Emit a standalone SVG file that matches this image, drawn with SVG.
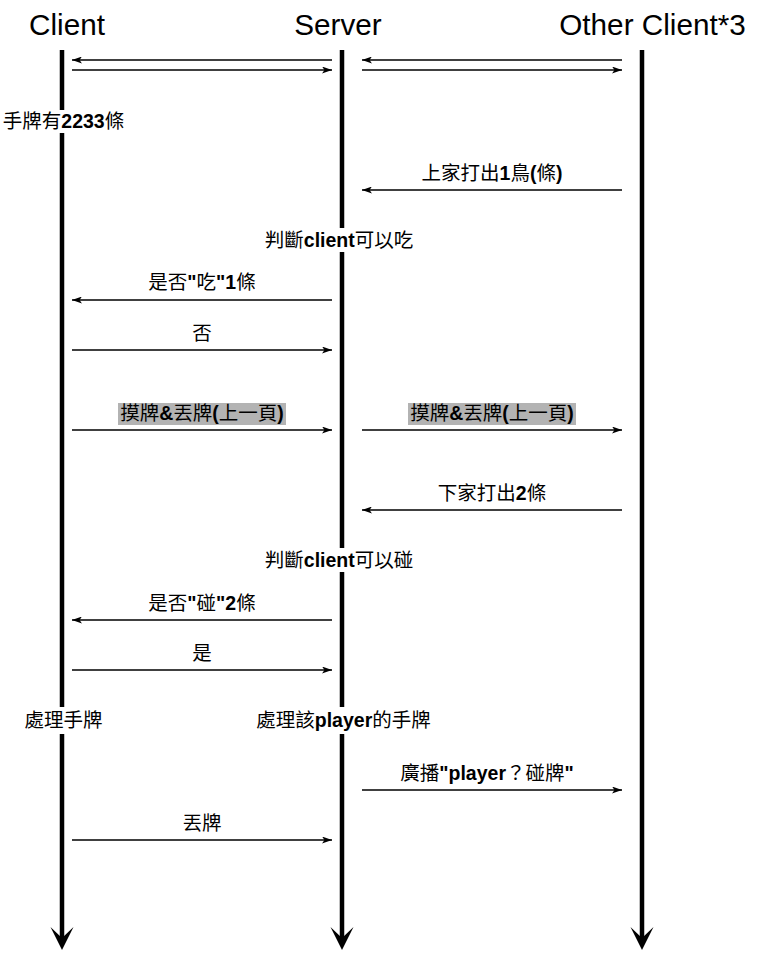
<svg xmlns="http://www.w3.org/2000/svg" width="757" height="961" viewBox="0 0 757 961">
<style>
text{font-family:"Liberation Sans","Noto Sans CJK TC",sans-serif;fill:#000}
.title{font-size:29.7px}
.lbl{font-size:19.5px;font-weight:bold;text-anchor:middle}
.cj{font-weight:normal}
.life{stroke:#000;stroke-width:4.5;fill:none}
.msg{stroke:#000;stroke-width:1.6;fill:none;marker-end:url(#ah)}
.bg{fill:#fff}
.hl{fill:#b3b3b3}
</style>
<defs>
<marker id="ah" viewBox="0 0 10 7" refX="10" refY="3.5" markerWidth="10" markerHeight="7" markerUnits="userSpaceOnUse" orient="auto">
<path d="M0,0 L10,3.5 L0,7 L2.5,3.5 Z" fill="#000"/>
</marker>
<path id="bigHead" d="M-11.5,-23 L0,0 L11.5,-23 L0,-12 Z" fill="#000"/>
</defs>
<rect width="757" height="961" fill="#fff"/>

<g id="client">
<text class="title" x="67" y="35" text-anchor="middle">Client</text>
<line class="life" x1="62" y1="50" x2="62" y2="940"/>
<use href="#bigHead" x="62" y="950"/>
</g>
<g id="server">
<text class="title" x="338" y="35" text-anchor="middle">Server</text>
<line class="life" x1="342" y1="50" x2="342" y2="940"/>
<use href="#bigHead" x="342" y="950"/>
</g>
<g id="other">
<text class="title" x="652.5" y="35" text-anchor="middle">Other Client*3</text>
<line class="life" x1="642" y1="50" x2="642" y2="940"/>
<use href="#bigHead" x="642" y="950"/>
</g>

<g id="note-hand">
<rect class="bg" x="2" y="110" width="124" height="23"/>
<text class="lbl" x="63.5" y="128"><tspan class="cj">手牌有</tspan>2233<tspan class="cj">條</tspan></text>
</g>
<g id="note-judge-chi">
<rect class="bg" x="263" y="228" width="152" height="24"/>
<text class="lbl" x="339" y="247"><tspan class="cj">判斷</tspan>client<tspan class="cj">可以吃</tspan></text>
</g>
<g id="note-judge-peng">
<rect class="bg" x="263" y="548" width="152" height="24"/>
<text class="lbl" x="339" y="567"><tspan class="cj">判斷</tspan>client<tspan class="cj">可以碰</tspan></text>
</g>
<g id="note-client-process">
<rect class="bg" x="24" y="707" width="80" height="27"/>
<text class="lbl" x="63.5" y="727"><tspan class="cj">處理手牌</tspan></text>
</g>
<g id="note-server-process">
<rect class="bg" x="253" y="707" width="181" height="27"/>
<text class="lbl" x="343.5" y="727"><tspan class="cj">處理該</tspan>player<tspan class="cj">的手牌</tspan></text>
</g>

<g id="connectors">
<line class="msg" x1="332" y1="60" x2="72" y2="60"/>
<line class="msg" x1="72" y1="70" x2="332" y2="70"/>
<line class="msg" x1="622" y1="60" x2="362" y2="60"/>
<line class="msg" x1="362" y1="70" x2="622" y2="70"/>

<line class="msg" x1="622" y1="190" x2="362" y2="190"/>
<text class="lbl" x="492" y="180"><tspan class="cj">上家打出</tspan>1<tspan class="cj">鳥</tspan>(<tspan class="cj">條</tspan>)</text>

<line class="msg" x1="332" y1="300" x2="72" y2="300"/>
<text class="lbl" x="202" y="289"><tspan class="cj">是否</tspan>"<tspan class="cj">吃</tspan>"1<tspan class="cj">條</tspan></text>

<line class="msg" x1="72" y1="350" x2="332" y2="350"/>
<text class="lbl" x="202" y="340"><tspan class="cj">否</tspan></text>

<rect class="hl" x="118" y="403" width="168" height="22"/>
<line class="msg" x1="72" y1="430" x2="332" y2="430"/>
<text class="lbl" x="202" y="420"><tspan class="cj">摸牌</tspan>&amp;<tspan class="cj">丟牌</tspan>(<tspan class="cj">上一頁</tspan>)</text>

<rect class="hl" x="408" y="403" width="168" height="22"/>
<line class="msg" x1="362" y1="430" x2="622" y2="430"/>
<text class="lbl" x="492" y="420"><tspan class="cj">摸牌</tspan>&amp;<tspan class="cj">丟牌</tspan>(<tspan class="cj">上一頁</tspan>)</text>

<line class="msg" x1="622" y1="510" x2="362" y2="510"/>
<text class="lbl" x="492" y="500"><tspan class="cj">下家打出</tspan>2<tspan class="cj">條</tspan></text>

<line class="msg" x1="332" y1="620" x2="72" y2="620"/>
<text class="lbl" x="202" y="610"><tspan class="cj">是否</tspan>"<tspan class="cj">碰</tspan>"2<tspan class="cj">條</tspan></text>

<line class="msg" x1="72" y1="670" x2="332" y2="670"/>
<text class="lbl" x="202" y="660"><tspan class="cj">是</tspan></text>

<line class="msg" x1="362" y1="790" x2="622" y2="790"/>
<text class="lbl" x="487" y="780"><tspan class="cj">廣播</tspan>"player<tspan class="cj">？碰牌</tspan>"</text>

<line class="msg" x1="72" y1="840" x2="332" y2="840"/>
<text class="lbl" x="202" y="830"><tspan class="cj">丟牌</tspan></text>
</g>
</svg>
